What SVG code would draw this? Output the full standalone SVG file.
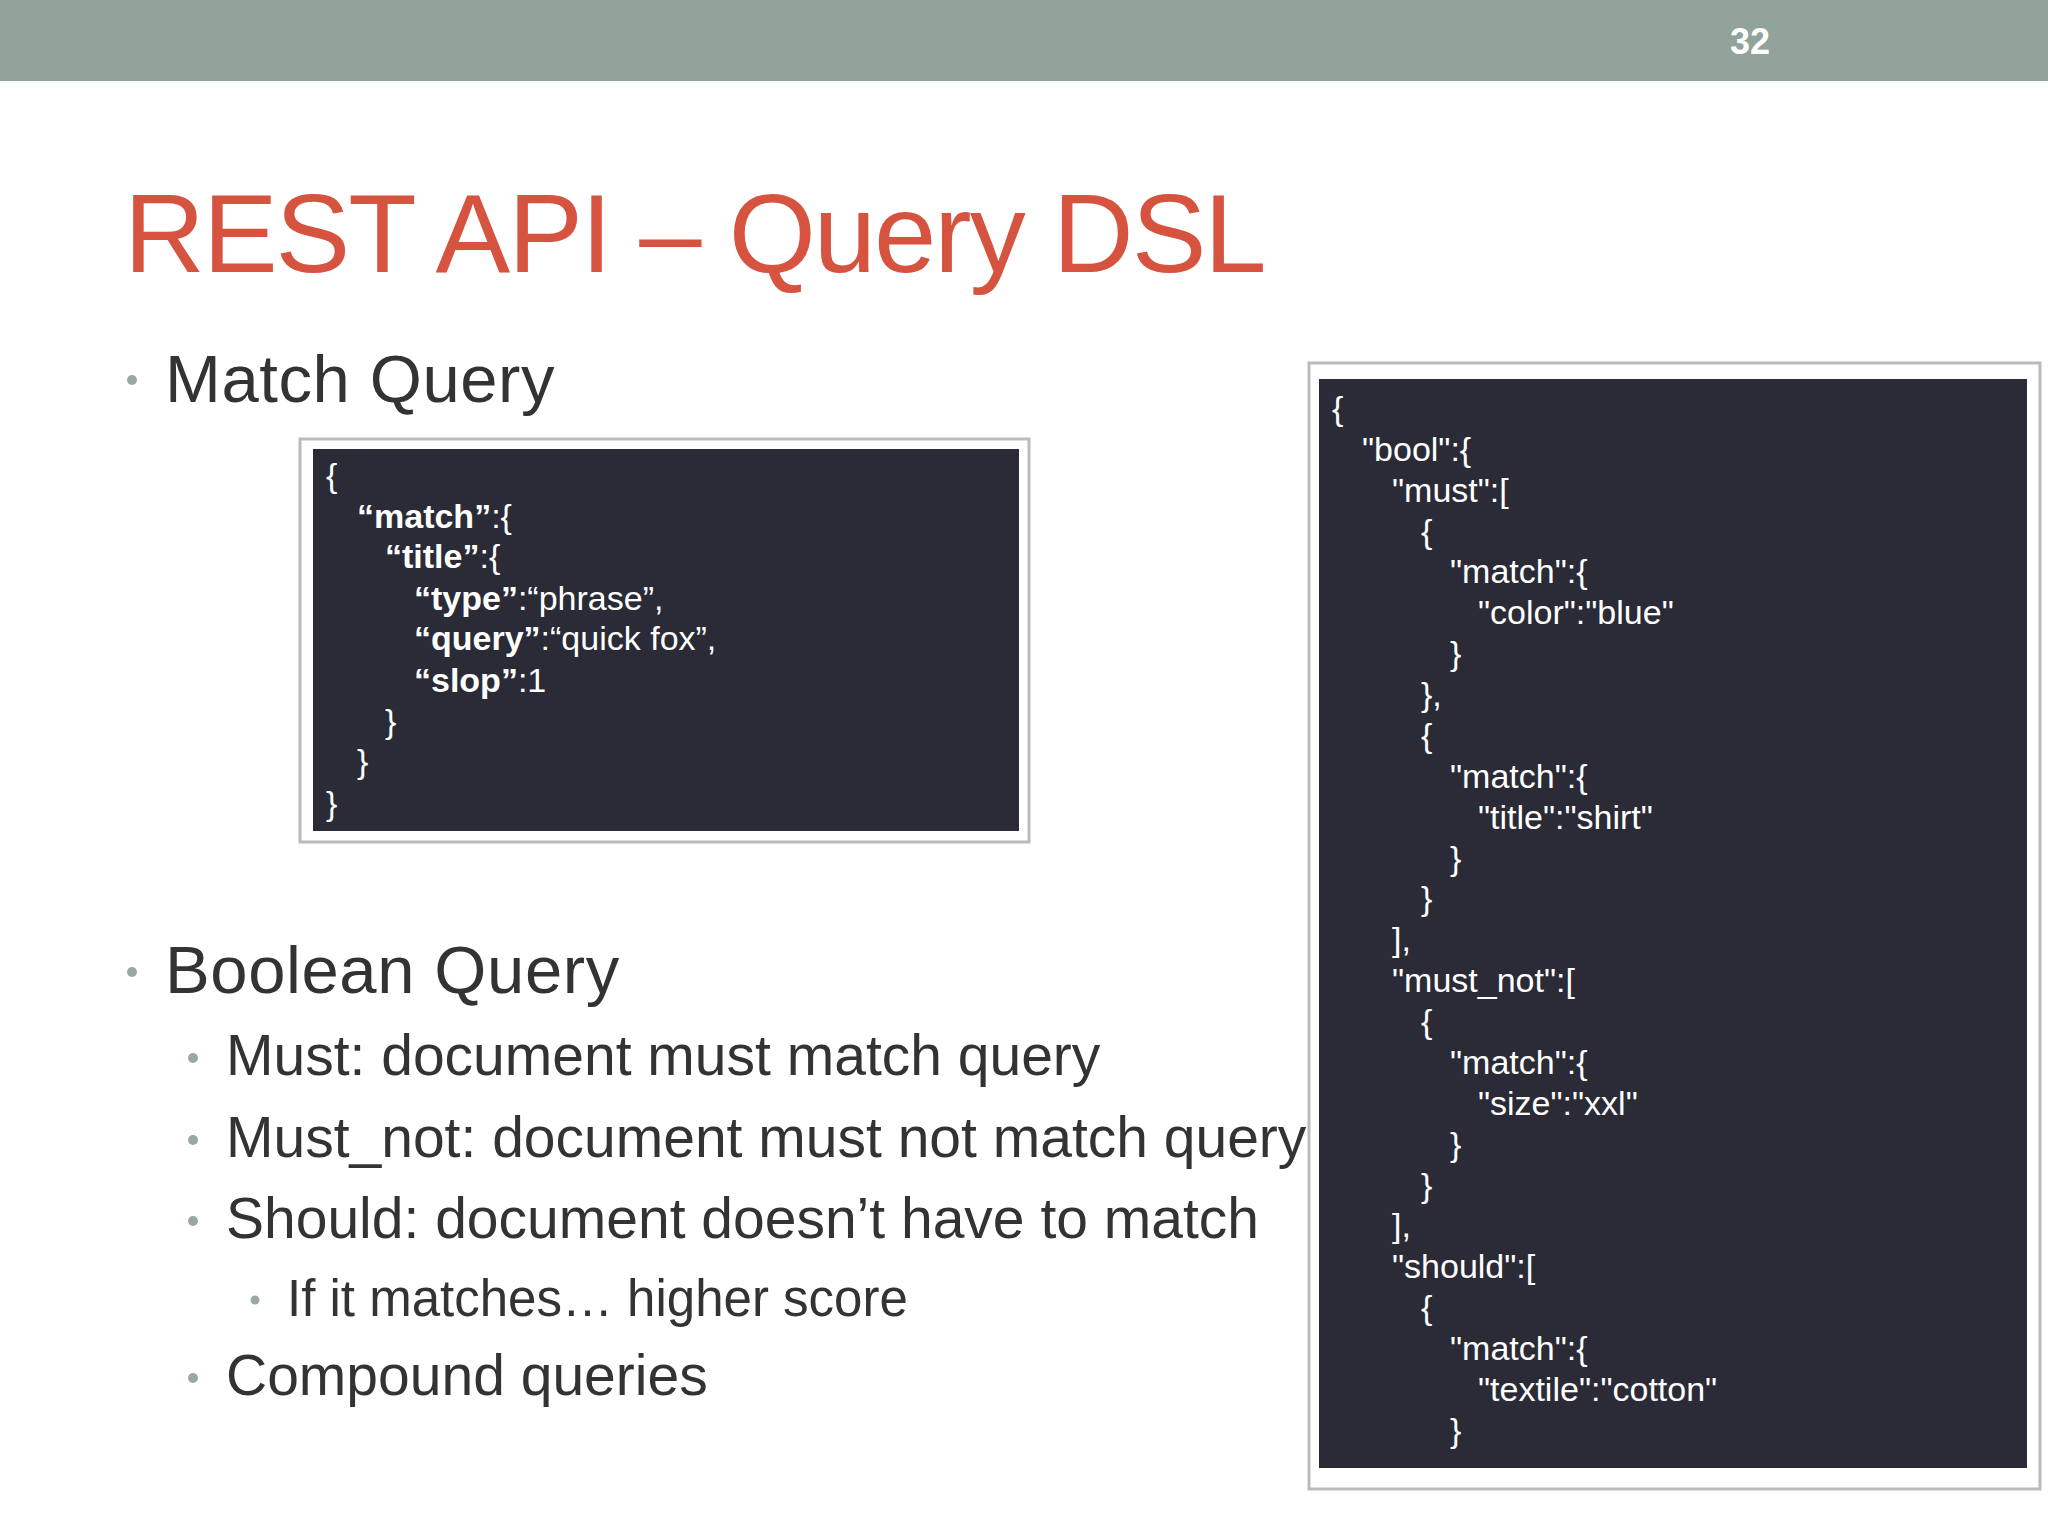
<svg xmlns="http://www.w3.org/2000/svg" width="2048" height="1536" viewBox="0 0 2048 1536">
<style>
text{font-family:"Liberation Sans",Arial,sans-serif}
.code{fill:#fff;font-size:34px}
.b{font-weight:bold}
.h1{fill:#333;font-size:67px}
.h2{fill:#333;font-size:57px}
.h3{fill:#333;font-size:51px}
.dot{fill:#9aa8a2}
</style>
<rect width="2048" height="1536" fill="#fff"/>
<rect width="2048" height="81" fill="#91a39a"/>
<text x="1750" y="54" fill="#fff" font-size="36" font-weight="bold" text-anchor="middle">32</text>
<text x="124" y="272" fill="#d5533f" font-size="112" letter-spacing="-2">REST API – Query DSL</text>
<g id="bullets">
<circle class="dot" cx="132" cy="380" r="5"/>
<text class="h1" x="165" y="402" letter-spacing="0.6">Match Query</text>
<circle class="dot" cx="132" cy="972" r="5"/>
<text class="h1" x="165" y="993" letter-spacing="0.6">Boolean Query</text>
<circle class="dot" cx="193" cy="1058" r="5"/>
<text class="h2" x="226" y="1075">Must: document must match query</text>
<circle class="dot" cx="193" cy="1140" r="5"/>
<text class="h2" x="226" y="1157">Must_not: document must not match query</text>
<circle class="dot" cx="193" cy="1221" r="5"/>
<text class="h2" x="226" y="1238">Should: document doesn’t have to match</text>
<circle class="dot" cx="255" cy="1300" r="4.5"/>
<text class="h3" x="287" y="1316">If it matches… higher score</text>
<circle class="dot" cx="193" cy="1378" r="5"/>
<text class="h2" x="226" y="1395">Compound queries</text>
</g>
<g id="box1">
<rect x="300" y="439" width="729" height="403" fill="#fff" stroke="#bbb" stroke-width="3"/>
<rect x="313" y="449" width="706" height="382" fill="#2a2b36"/>
<text class="code" x="326" y="487">{</text>
<text class="code" x="357" y="528"><tspan class="b">“match”</tspan>:{</text>
<text class="code" x="385" y="568"><tspan class="b">“title”</tspan>:{</text>
<text class="code" x="414" y="610"><tspan class="b">“type”</tspan>:“phrase”,</text>
<text class="code" x="414" y="650"><tspan class="b">“query”</tspan>:“quick fox”,</text>
<text class="code" x="414" y="692"><tspan class="b">“slop”</tspan>:1</text>
<text class="code" x="385" y="733">}</text>
<text class="code" x="357" y="773">}</text>
<text class="code" x="326" y="815">}</text>
</g>
<g id="box2">
<rect x="1309" y="363" width="731" height="1126" fill="#fff" stroke="#bbb" stroke-width="3"/>
<rect x="1319" y="379" width="708" height="1089" fill="#2a2b36"/>
<text class="code" x="1332" y="420">{</text>
<text class="code" x="1362" y="461">"bool":{</text>
<text class="code" x="1392" y="502">"must":[</text>
<text class="code" x="1421" y="543">{</text>
<text class="code" x="1450" y="583">"match":{</text>
<text class="code" x="1478" y="624">"color":"blue"</text>
<text class="code" x="1450" y="665">}</text>
<text class="code" x="1421" y="706">},</text>
<text class="code" x="1421" y="747">{</text>
<text class="code" x="1450" y="788">"match":{</text>
<text class="code" x="1478" y="829">"title":"shirt"</text>
<text class="code" x="1450" y="870">}</text>
<text class="code" x="1421" y="910">}</text>
<text class="code" x="1392" y="951">],</text>
<text class="code" x="1392" y="992">"must_not":[</text>
<text class="code" x="1421" y="1033">{</text>
<text class="code" x="1450" y="1074">"match":{</text>
<text class="code" x="1478" y="1115">"size":"xxl"</text>
<text class="code" x="1450" y="1156">}</text>
<text class="code" x="1421" y="1197">}</text>
<text class="code" x="1392" y="1237">],</text>
<text class="code" x="1392" y="1278">"should":[</text>
<text class="code" x="1421" y="1319">{</text>
<text class="code" x="1450" y="1360">"match":{</text>
<text class="code" x="1478" y="1401">"textile":"cotton"</text>
<text class="code" x="1450" y="1442">}</text>
</g>
</svg>
